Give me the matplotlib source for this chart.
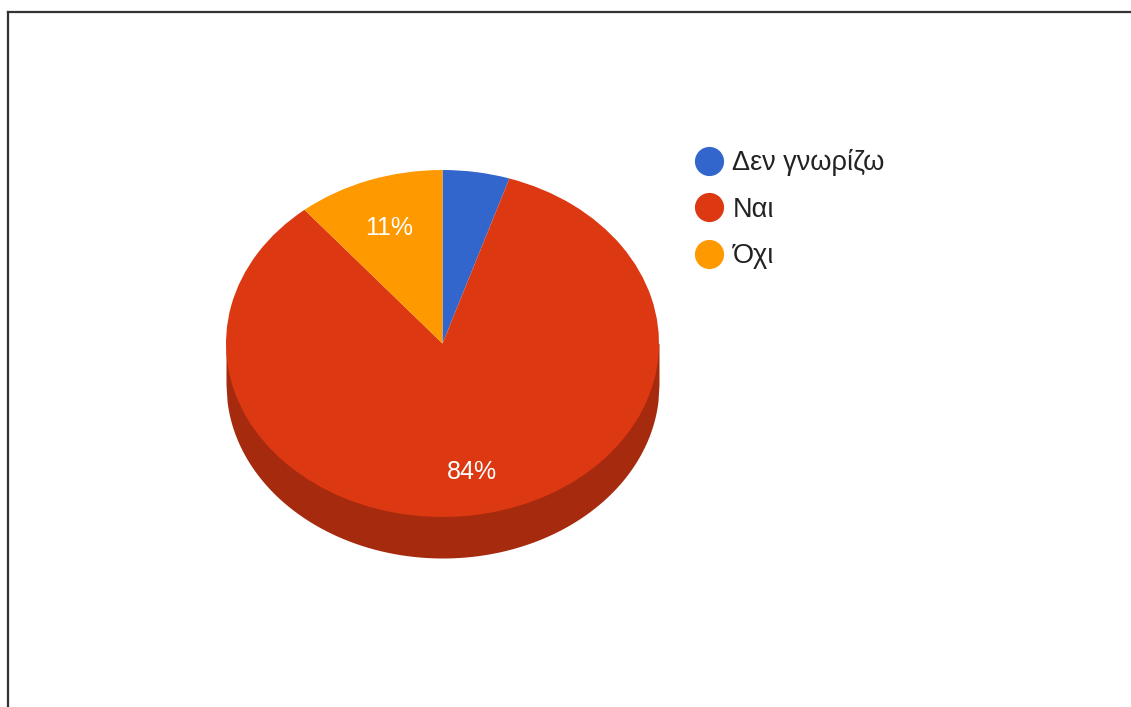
import numpy as np
import matplotlib
matplotlib.use('Agg')
import matplotlib.pyplot as plt
from matplotlib.lines import Line2D

labels = ['Δεν γνωρίζω', 'Ναι', 'Όχι']
values = [5, 84, 11]
colors = ['#3366CC', '#DC3912', '#FF9900']
side_color = '#A52A0E'
pct_labels = ['', '84%', '11%']

plt.rcParams['font.family'] = ['Liberation Sans', 'DejaVu Sans']

W, H = 1131, 707
fig = plt.figure(figsize=(W / 100, H / 100), dpi=100)

# pie geometry in pixels (top face centre, radii, side depth)
cx, cy = 442.5, 343.5
rx, ry = 216.5, 173.5
depth = 41 / ry

xl = (-1.1, 1.1)
yl = (-1.45, 1.1)
left = cx + xl[0] * rx
top = cy - yl[1] * ry
w = (xl[1] - xl[0]) * rx
h = (yl[1] - yl[0]) * ry
ax = fig.add_axes([left / W, 1 - (top + h) / H, w / W, h / H])

# side of the 3D pie
xs = np.linspace(-1, 1, 400)
ax.fill_between(xs, -depth - np.sqrt(1 - xs ** 2), 0, color=side_color, lw=0)

wedges, _ = ax.pie(values, colors=colors, startangle=90, counterclock=False,
                   radius=1, wedgeprops=dict(linewidth=0))
ax.set_aspect('auto')
ax.set_xlim(*xl)
ax.set_ylim(*yl)
ax.axis('off')

# percentage labels placed inside slices
total = float(sum(values))
start = 90.0
for v, t in zip(values, pct_labels):
    ang = start - v / total * 360 / 2
    start -= v / total * 360
    if not t:
        continue
    r = 0.73
    ax.annotate(t, (r * np.cos(np.radians(ang)), r * np.sin(np.radians(ang))),
                xytext=(0, -3), textcoords='offset points',
                color='white', fontsize=18, ha='center', va='center')

handles = [Line2D([], [], marker='o', linestyle='none', markersize=21,
                  markerfacecolor=c, markeredgewidth=0) for c in colors]
fig.legend(handles, labels, loc='upper left', bbox_to_anchor=(694 / W, 1 - 149 / H),
           frameon=False, fontsize=19.5, handlelength=1.1, handletextpad=0.32,
           borderpad=0, borderaxespad=0, labelspacing=0.76, labelcolor='#222222')

# frame lines of the original screenshot
fig.add_artist(Line2D([8 / W, 8 / W], [0, 1 - 12 / H], color='#333333', lw=1.6,
                      transform=fig.transFigure))
fig.add_artist(Line2D([8 / W, 1], [1 - 12 / H, 1 - 12 / H], color='#333333', lw=1.6,
                      transform=fig.transFigure))

fig.savefig('out.png', dpi=100)
